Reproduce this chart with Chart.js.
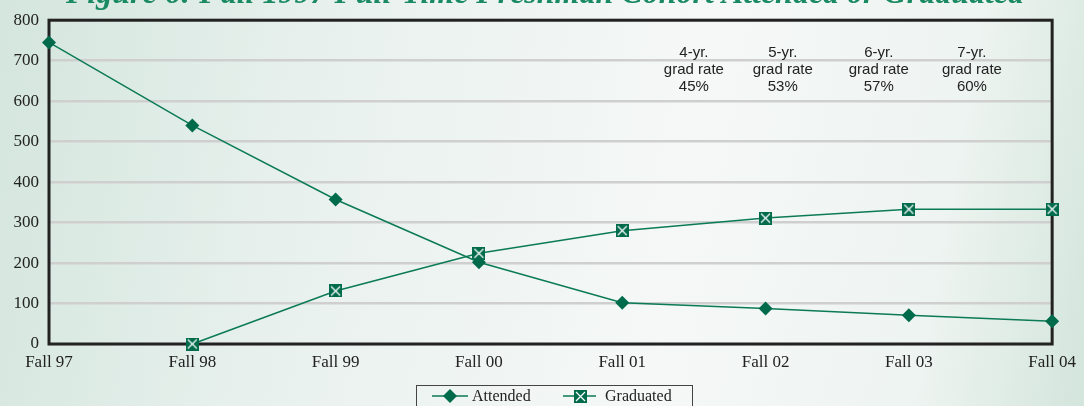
<!DOCTYPE html>
<html>
<head>
<meta charset="utf-8">
<script src="https://cdn.jsdelivr.net/npm/chart.js@4.4.0/dist/chart.umd.min.js"></script>
<style>
html, body { margin: 0; padding: 0; }
body {
    width: 1084px; height: 406px; overflow: hidden;
    background: linear-gradient(100deg, #d4e6de 0%, #e9f1ee 30%, #f5f8f7 62%, #eef4f1 85%, #d3e5dc 100%);
}
</style>
</head>
<body>
<canvas id="cohortChart" width="1084" height="406"></canvas>
<script>
var terms = ['Fall 97', 'Fall 98', 'Fall 99', 'Fall 00', 'Fall 01', 'Fall 02', 'Fall 03', 'Fall 04'];
var attended = [745, 540, 357, 202, 102, 88, 71, 56];
var graduated = [null, 0, 131, 224, 280, 311, 333, 333];
var yTicks = [0, 100, 200, 300, 400, 500, 600, 700, 800];

// graduation-rate notes, placed along the x axis (category index)
var rateHeads = ['4-yr.', '5-yr.', '6-yr.', '7-yr.'];
var rateValues = ['45%', '53%', '57%', '60%'];
var rateSpots = [4.5, 5.12, 5.79, 6.44];

var titleText = 'Figure 6: Fall 1997 Full-Time Freshman Cohort Attended or Graduated';
var green = '#006b4a';
var lineGreen = '#0b7a56';
var serif = '"Liberation Serif", "DejaVu Serif", serif';
var sans = '"Liberation Sans", Arial, sans-serif';

// square marker with a white cross for the Graduated series
function boxedX(size) {
    var c = document.createElement('canvas');
    c.width = size; c.height = size;
    var g = c.getContext('2d');
    g.fillStyle = green;
    g.fillRect(0, 0, size, size);
    g.strokeStyle = '#ffffff';
    g.lineWidth = 1.2;
    g.beginPath();
    g.moveTo(2, 2); g.lineTo(size - 2, size - 2);
    g.moveTo(size - 2, 2); g.lineTo(2, size - 2);
    g.stroke();
    return c;
}
var gradMarker = boxedX(13);

var framePlugin = {
    id: 'frame',
    beforeDatasetsDraw: function(chart) {
        var a = chart.chartArea, ctx = chart.ctx;
        ctx.save();
        ctx.strokeStyle = '#222222';
        ctx.lineWidth = 3;
        ctx.strokeRect(a.left, a.top, a.right - a.left, a.bottom - a.top);
        ctx.restore();
    }
};

var notesPlugin = {
    id: 'notes',
    afterDraw: function(chart) {
        var ctx = chart.ctx, x = chart.scales.x, y = chart.scales.y;
        ctx.save();

        // title, mostly above the top edge
        ctx.font = 'italic bold 32px ' + serif;
        ctx.fillStyle = '#1a8a62';
        ctx.textAlign = 'center';
        ctx.textBaseline = 'alphabetic';
        ctx.fillText(titleText, 545, 3);

        // grad rate notes
        ctx.font = '15px ' + sans;
        ctx.fillStyle = '#222222';
        ctx.textBaseline = 'middle';
        var top = y.getPixelForValue(720);
        rateSpots.forEach(function(spot, i) {
            var px = x.getPixelForValue(spot);
            ctx.fillText(rateHeads[i], px, top);
            ctx.fillText('grad rate', px, top + 17);
            ctx.fillText(rateValues[i], px, top + 34);
        });

        // legend box
        var lx = 416, ly = 385;
        ctx.strokeStyle = '#444444';
        ctx.lineWidth = 1;
        ctx.strokeRect(lx + 0.5, ly + 0.5, 276, 30);
        var cy = ly + 11;
        ctx.strokeStyle = lineGreen;
        ctx.lineWidth = 1.5;
        ctx.beginPath();
        ctx.moveTo(432, cy); ctx.lineTo(468, cy);
        ctx.moveTo(563, cy); ctx.lineTo(596, cy);
        ctx.stroke();
        ctx.fillStyle = green;
        ctx.beginPath();
        ctx.moveTo(450, cy - 7); ctx.lineTo(457, cy); ctx.lineTo(450, cy + 7); ctx.lineTo(443, cy);
        ctx.closePath();
        ctx.fill();
        ctx.drawImage(gradMarker, 574, cy - 6);
        ctx.font = '16px ' + serif;
        ctx.fillStyle = '#222222';
        ctx.textAlign = 'left';
        ctx.fillText(chart.data.datasets[0].label, 472, cy + 1);
        ctx.fillText(chart.data.datasets[1].label, 605, cy + 1);
        ctx.restore();
    }
};

new Chart(document.getElementById('cohortChart'), {
    type: 'line',
    data: {
        labels: terms,
        datasets: [{
            label: 'Attended',
            data: attended,
            borderColor: lineGreen,
            borderWidth: 1.5,
            pointStyle: 'rectRot',
            pointRadius: 7,
            pointBackgroundColor: green,
            pointBorderColor: green,
            pointBorderWidth: 0,
            tension: 0,
            clip: false
        }, {
            label: 'Graduated',
            data: graduated,
            borderColor: lineGreen,
            borderWidth: 1.5,
            pointStyle: gradMarker,
            pointRadius: 7,
            tension: 0,
            clip: false
        }]
    },
    options: {
        responsive: false,
        animation: false,
        devicePixelRatio: 1,
        layout: { padding: { left: 0, right: 31, top: 15, bottom: 0 } },
        plugins: {
            legend: { display: false },
            tooltip: { enabled: false }
        },
        scales: {
            x: {
                offset: false,
                afterFit: function(scale) { scale.height = 62; },
                grid: { display: false, drawTicks: false },
                border: { display: false },
                ticks: {
                    padding: 8,
                    maxRotation: 0,
                    autoSkip: false,
                    color: '#222222',
                    font: { family: serif, size: 17 }
                }
            },
            y: {
                min: 0,
                max: 800,
                afterFit: function(scale) { scale.width = 49; },
                afterBuildTicks: function(scale) {
                    scale.ticks = yTicks.map(function(v) { return { value: v }; });
                },
                grid: { color: '#cfcfcf', lineWidth: 2.5, drawTicks: false },
                border: { display: false },
                ticks: {
                    padding: 10,
                    color: '#222222',
                    font: { family: serif, size: 17 }
                }
            }
        }
    },
    plugins: [framePlugin, notesPlugin]
});
</script>
</body>
</html>
